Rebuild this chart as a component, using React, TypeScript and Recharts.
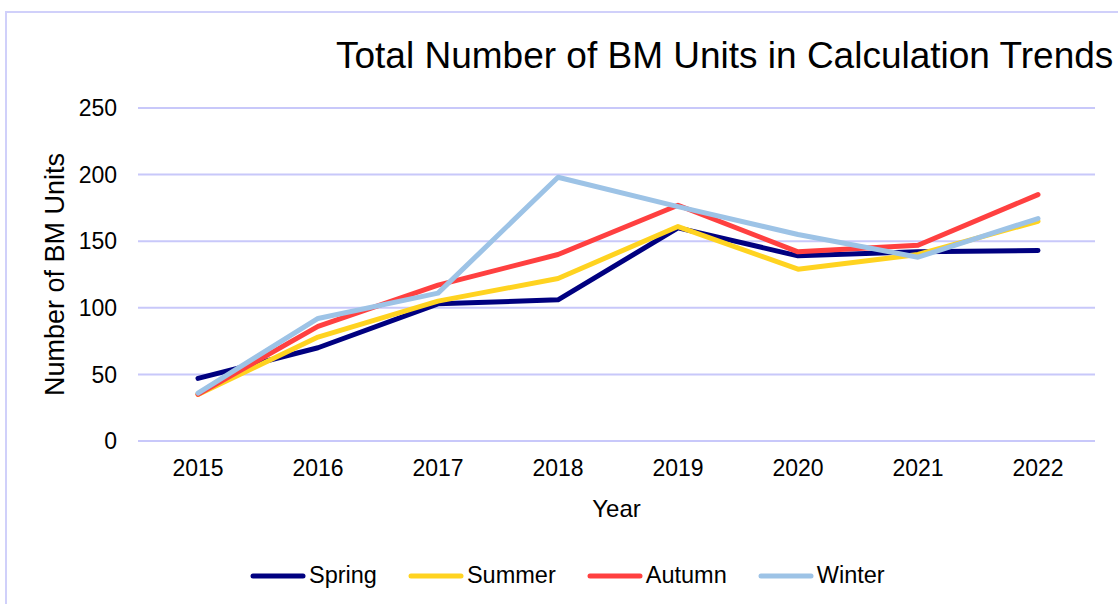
import React from 'react';
import { LineChart, Line, XAxis, YAxis, CartesianGrid, Legend } from 'recharts';

const years = ['2015', '2016', '2017', '2018', '2019', '2020', '2021', '2022'];
const spring = [47, 70, 103, 106, 160, 139, 142, 143];
const summer = [35, 78, 105, 122, 161, 129, 140, 165];
const autumn = [35, 86, 117, 140, 177, 142, 147, 185];
const winter = [36, 92, 111, 198, 176, 155, 138, 167];
const yTicks = [0, 50, 100, 150, 200, 250];

const seriesNames = ['Spring', 'Summer', 'Autumn', 'Winter'];
const seriesColors = ['#000080', '#FFD320', '#FF4040', '#9DC3E6'];

const data = years.map((y, i) => ({
  year: y,
  Spring: spring[i],
  Summer: summer[i],
  Autumn: autumn[i],
  Winter: winter[i],
}));

const FONT = '"Liberation Sans", Arial, sans-serif';

const renderLegend = () => (
  <div style={{ display: 'flex', alignItems: 'center', fontFamily: FONT, fontSize: 23.5, color: '#000', whiteSpace: 'nowrap' }}>
    {seriesNames.map((n, i) => (
      <div key={n} style={{ display: 'flex', alignItems: 'center', marginRight: i < 3 ? 31 : 0 }}>
        <svg width={56} height={10} style={{ marginRight: 3 }}>
          <line x1={3} y1={5} x2={53} y2={5} stroke={seriesColors[i]} strokeWidth={5} strokeLinecap="round" />
        </svg>
        <span>{n}</span>
      </div>
    ))}
  </div>
);

export default function App() {
  return (
    <div style={{ position: 'absolute', left: 0, top: 0, width: 1118, height: 604, overflow: 'hidden', background: '#fff' }}>
      <div style={{ position: 'absolute', left: 5, top: 11, width: 1300, height: 800, border: '2px solid #D0D0FA', boxSizing: 'border-box' }} />
      <div style={{ position: 'absolute', left: 336, top: 37, fontFamily: FONT, fontSize: 37, lineHeight: 1, whiteSpace: 'nowrap', color: '#000' }}>
        Total Number of BM Units in Calculation Trends
      </div>
      <div style={{ position: 'absolute', left: 0, top: 0 }}>
        <LineChart width={1118} height={604} data={data} margin={{ top: 108, right: 23, left: 78, bottom: 53 }}>
          <CartesianGrid vertical={false} stroke="#C8C8FA" strokeWidth={2} />
          <XAxis
            dataKey="year"
            axisLine={false}
            tickLine={false}
            tickSize={0}
            tickMargin={19}
            height={80}
            padding={{ left: 60, right: 57 }}
            tick={{ fill: '#000', fontSize: 23, fontFamily: FONT }}
            label={{ value: 'Year', position: 'insideBottom', offset: 4, fill: '#000', fontSize: 24, fontFamily: FONT }}
          />
          <YAxis
            domain={[0, 250]}
            ticks={yTicks}
            axisLine={false}
            tickLine={false}
            tickSize={0}
            tickMargin={21}
            width={60}
            tick={{ fill: '#000', fontSize: 23, fontFamily: FONT }}
            label={{
              content: (props: any) => {
                const vb = props.viewBox || {};
                const cx = 55;
                const cy = vb.y + vb.height / 2;
                return (
                  <text x={cx} y={cy} transform={`rotate(-90 ${cx} ${cy})`} textAnchor="middle" dominantBaseline="central" fill="#000" fontSize={27} fontFamily={FONT}>
                    Number of BM Units
                  </text>
                );
              },
            }}
          />
          <Legend
            verticalAlign="bottom"
            content={renderLegend}
            wrapperStyle={{ position: 'absolute', left: 250, top: 562, bottom: 'auto', width: 'auto', height: 30 }}
          />
          {seriesNames.map((n, i) => (
            <Line
              key={n}
              type="linear"
              dataKey={n}
              stroke={seriesColors[i]}
              strokeWidth={5}
              strokeLinecap="round"
              strokeLinejoin="round"
              dot={false}
              activeDot={false}
              isAnimationActive={false}
            />
          ))}
        </LineChart>
      </div>
    </div>
  );
}
